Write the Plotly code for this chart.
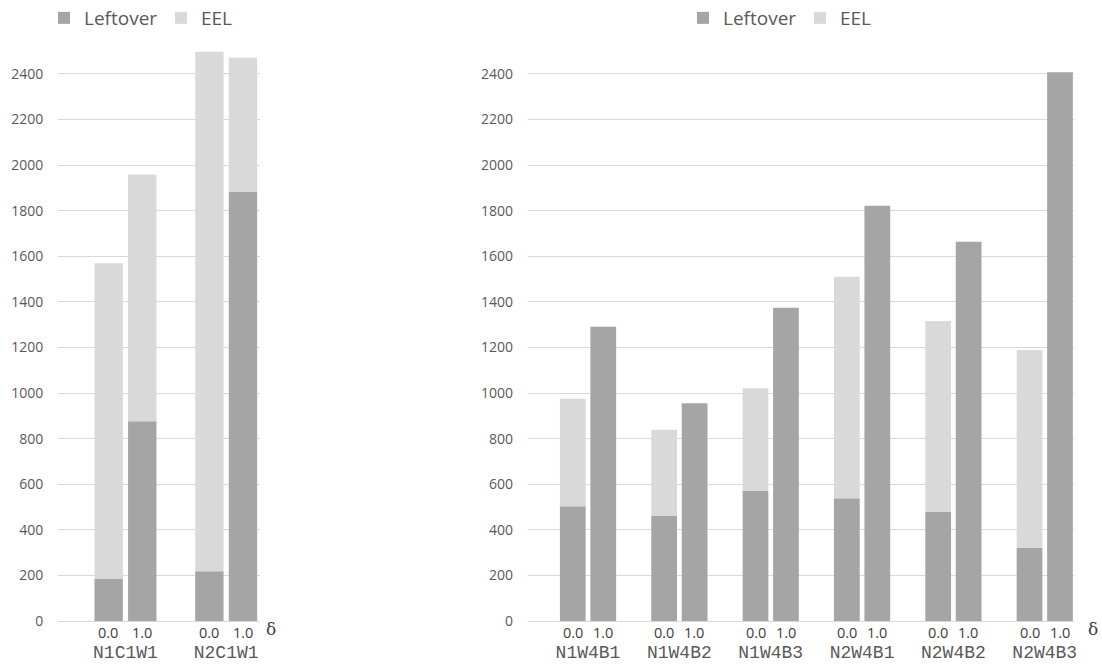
import plotly.graph_objects as go

# ---- data ----
left_groups = ["N1C1W1", "N2C1W1"]
left_leftover_d0 = [187, 218]
left_eel_d0 = [1383, 2279]
left_leftover_d1 = [876, 1882]
left_eel_d1 = [1083, 589]

right_groups = ["N1W4B1", "N1W4B2", "N1W4B3", "N2W4B1", "N2W4B2", "N2W4B3"]
right_leftover_d0 = [503, 462, 570, 538, 479, 321]
right_eel_d0 = [472, 377, 451, 972, 837, 868]
right_leftover_d1 = [1291, 955, 1374, 1822, 1664, 2407]
right_eel_d1 = [0, 0, 0, 0, 0, 0]

delta_labels = ["0.0", "1.0"]
series_names = ["Leftover", "EEL"]
y_ticks = list(range(0, 2600, 200))

C_LEFT = "#a5a5a5"
C_EEL = "#d9d9d9"
TXT = "#595959"
GRID = "#d9d9d9"

W, H = 1102, 665

fig = go.Figure()


def add_chart(groups, lo0, eel0, lo1, eel1, xa, ya, legend):
    for og, lo, eel, show in (("0", lo0, eel0, True), ("1", lo1, eel1, False)):
        fig.add_trace(go.Bar(
            x=groups, y=lo, name=series_names[0], offsetgroup=og,
            marker=dict(color=C_LEFT, line=dict(width=0)),
            xaxis=xa, yaxis=ya, legend=legend, showlegend=show,
            legendgroup=legend + "lo"))
        fig.add_trace(go.Bar(
            x=groups, y=eel, base=lo, name=series_names[1], offsetgroup=og,
            marker=dict(color=C_EEL, line=dict(width=0)),
            xaxis=xa, yaxis=ya, legend=legend, showlegend=show,
            legendgroup=legend + "eel"))


add_chart(left_groups, left_leftover_d0, left_eel_d0, left_leftover_d1, left_eel_d1,
          "x", "y", "legend")
add_chart(right_groups, right_leftover_d0, right_eel_d0, right_leftover_d1, right_eel_d1,
          "x2", "y2", "legend2")

y_dom = [44 / H, 625 / H]
y_rng = [0, 2549]

common_x = dict(type="category", showgrid=False, zeroline=False, showline=False,
                ticks="", tickfont=dict(family="Liberation Mono", size=18, color=TXT),
                ticklabelstandoff=18, fixedrange=True, automargin=False)
common_y = dict(range=y_rng, domain=y_dom, tickvals=y_ticks, showgrid=True,
                gridcolor=GRID, gridwidth=1, zeroline=True, zerolinecolor=GRID,
                zerolinewidth=1, showline=False, ticks="",
                tickfont=dict(family="Open Sans", size=14, color=TXT),
                ticklabelstandoff=14, fixedrange=True, automargin=False)

fig.update_layout(
    width=W, height=H,
    margin=dict(l=0, r=0, t=0, b=0, autoexpand=False),
    paper_bgcolor="white", plot_bgcolor="white",
    barmode="group", bargap=0.333, bargroupgap=0.155,
    xaxis=dict(domain=[58.3 / W, 260 / W], range=[-0.667, 1.336], anchor="y", **common_x),
    yaxis=dict(anchor="x", **common_y),
    xaxis2=dict(domain=[528 / W, 1074 / W], range=[-0.657, 5.32], anchor="y2", **common_x),
    yaxis2=dict(anchor="x2", **common_y),
    legend=dict(orientation="h", x=44 / W, y=1 - 18 / H, xanchor="left", yanchor="middle",
                font=dict(family="Open Sans", size=19, color=TXT),
                entrywidth=72, traceorder="normal", bgcolor="rgba(0,0,0,0)"),
    legend2=dict(orientation="h", x=683 / W, y=1 - 18 / H, xanchor="left", yanchor="middle",
                 font=dict(family="Open Sans", size=19, color=TXT),
                 entrywidth=72, traceorder="normal", bgcolor="rgba(0,0,0,0)"),
    showlegend=True,
)

# inner category labels (delta values) under each bar
annotations = []
for groups, xref, shift in ((left_groups, "x", 17), (right_groups, "x2", 15)):
    for g in groups:
        for lab, s in zip(delta_labels, (-shift, shift)):
            annotations.append(dict(x=g, xref=xref, y=1 - 632 / H, yref="paper",
                                    text=lab, showarrow=False, xshift=s,
                                    xanchor="center", yanchor="middle",
                                    font=dict(family="Open Sans", size=14.5, color="#404040")))
for xp in (271, 1093):
    annotations.append(dict(x=xp / W, xref="paper", y=1 - 629 / H, yref="paper",
                            text="δ", showarrow=False, xanchor="center", yanchor="middle",
                            font=dict(family="DejaVu Serif", size=17, color="#404040")))
fig.update_layout(annotations=annotations)

fig.write_html("out.html")
